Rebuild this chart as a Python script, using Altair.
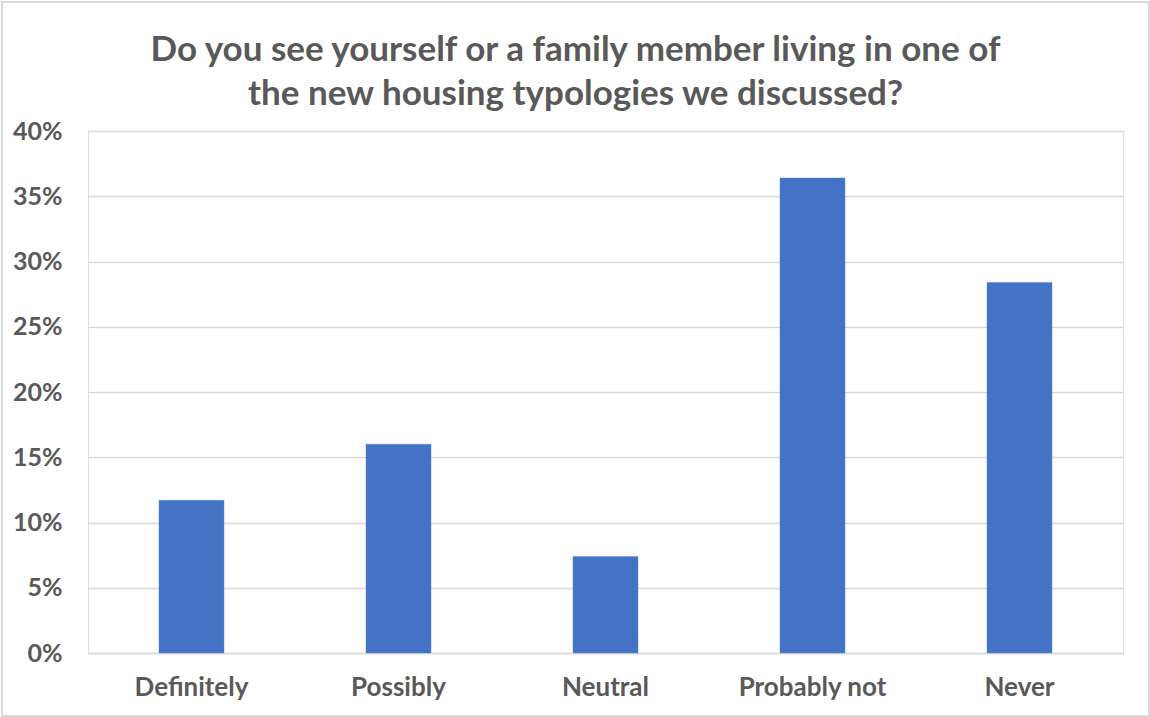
import altair as alt
import pandas as pd

categories = ["Definitely", "Possibly", "Neutral", "Probably not", "Never"]
values = [0.117, 0.160, 0.074, 0.364, 0.284]
title_lines = ["Do you see yourself or a family member living in one of",
               "the new housing typologies we discussed?"]

df = pd.DataFrame({"category": categories, "value": values})

FONT = "Lato"
GREY = "#595959"

bars = alt.Chart(df).mark_bar(color="#4472C4", stroke="#5B8BD6", strokeWidth=0.5).encode(
    x=alt.X("category:N", sort=categories, title=None,
            scale=alt.Scale(paddingInner=0.686, paddingOuter=0.343),
            axis=alt.Axis(labelAngle=0, labelFont=FONT, labelFontSize=26, labelFontWeight="bold",
                          labelColor=GREY, labelPadding=21, ticks=False, domain=True,
                          domainColor="#D9D9D9", domainWidth=1.5, grid=False)),
    y=alt.Y("value:Q", title=None,
            scale=alt.Scale(domain=[0, 0.4], nice=False),
            axis=alt.Axis(format=".0%", values=[0, 0.05, 0.1, 0.15, 0.2, 0.25, 0.3, 0.35, 0.4],
                          labelFont=FONT, labelFontSize=25, labelFontWeight="bold",
                          labelColor=GREY, labelPadding=26, ticks=False, domain=False,
                          grid=True, gridColor="#D9D9D9", gridWidth=1.5)),
)

border = alt.Chart(df).mark_rect(fill=None, stroke="#D9D9D9", strokeWidth=2).encode(
    x=alt.value(-86), x2=alt.value(1061), y=alt.value(-129), y2=alt.value(585)
)

chart = alt.layer(border, bars).properties(
    width=1035, height=522,
    title=alt.TitleParams(title_lines, font=FONT, fontSize=35, fontWeight="bold", color=GREY,
                          anchor="middle", frame="group", dx=-30, offset=-139,
                          baseline="alphabetic", lineHeight=44),
    autosize=alt.AutoSizeParams(type="none"),
    padding={"left": 88, "top": 131, "right": 27, "bottom": 64},
).configure_view(stroke=None).configure(background="white")

chart.save("out.html", embed_options={"renderer": "svg", "actions": False})
